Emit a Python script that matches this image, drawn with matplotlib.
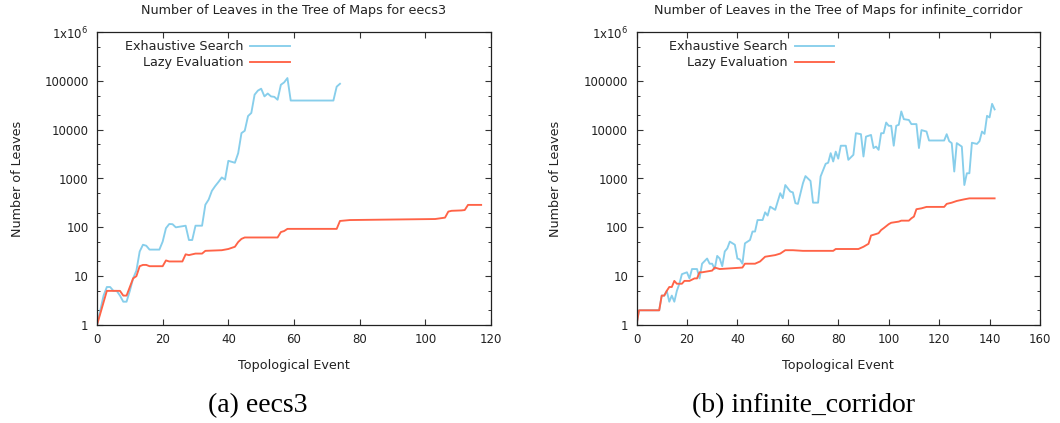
import matplotlib
matplotlib.use("Agg")
import matplotlib.pyplot as plt
from matplotlib.ticker import FixedLocator, LogLocator, NullFormatter

plt.rcParams['font.family'] = ['DejaVu Sans']

# ---- eecs3 ----
eecs3_exh_x = [0, 1, 2, 3, 4, 5, 6, 7, 8, 9, 10, 11, 12, 13, 14, 15, 16, 19, 20, 21,
               22, 23, 24, 27, 28, 29, 30, 32, 33, 34, 35, 36, 37, 38, 39, 40, 41, 42,
               43, 44, 45, 46, 47, 48, 49, 50, 51, 52, 53, 54, 55, 56, 57, 58, 59, 72,
               73, 74]
eecs3_exh_y = [1, 2, 4, 6, 6, 5, 5, 4, 3, 3, 5, 9, 13, 32, 44, 42, 35, 35, 51, 96,
               117, 116, 100, 108, 55, 55, 108, 108, 290, 370, 560, 700, 850, 1050, 950,
               2300, 2200, 2100, 3300, 8500, 9500, 19000, 22000, 52000, 63000, 69000,
               48000, 55000, 48000, 47000, 41000, 83000, 93000, 114000, 39500, 39500,
               76000, 87000]

eecs3_lazy_x = [0, 3, 7, 8, 9, 10, 11, 12, 13, 14, 15, 16, 20, 21, 22, 26, 27, 28, 29,
                30, 32, 33, 38, 40, 42, 43, 44, 45, 55, 56, 57, 58, 73, 74, 77, 103,
                106, 107, 108, 111, 112, 113, 117]
eecs3_lazy_y = [1, 5, 5, 4, 4, 6, 9, 10, 16, 17, 17, 16, 16, 21, 20, 20, 28, 27, 28,
                29, 29, 33, 34, 36, 40, 50, 58, 62, 62, 80, 84, 93, 93, 135, 141, 148,
                158, 210, 218, 222, 226, 288, 288]

# ---- infinite_corridor ----
corr_exh_x = [0, 1, 9, 10, 11, 12, 13, 14, 15, 16, 17, 18, 20, 21, 22, 24, 25, 26, 28,
              29, 30, 31, 32, 33, 34, 35, 36, 37, 39, 40, 41, 42, 43, 45, 46, 47, 48,
              50, 51, 52, 53, 55, 57, 58, 59, 61, 62, 63, 64, 66, 67, 69, 70, 72, 73,
              75, 76, 77, 78, 79, 80, 81, 83, 84, 86, 87, 89, 90, 91, 93, 94, 95, 96,
              97, 98, 99, 100, 101, 102, 103, 104, 105, 106, 108, 109, 111, 112, 113,
              115, 116, 122, 123, 124, 125, 126, 127, 129, 130, 131, 132, 133, 135,
              136, 137, 138, 139, 140, 141, 142]
corr_exh_y = [1, 2, 2, 4, 4, 5, 3, 4, 3, 5, 7, 11, 12, 9, 14, 14, 9, 18, 23, 18, 18,
              14, 26, 23, 16, 32, 37, 51, 44, 23, 22, 18, 47, 55, 82, 82, 141, 141, 203,
              174, 265, 228, 500, 395, 735, 540, 520, 313, 302, 800, 1120, 890, 320,
              320, 1100, 2000, 2100, 3300, 2230, 3550, 2550, 4690, 4690, 2410, 3050,
              8470, 8080, 2820, 7200, 7800, 4200, 4500, 3860, 8470, 8470, 14000, 12000,
              12000, 4690, 12000, 12600, 23600, 16400, 15800, 13000, 13000, 4200, 9800,
              9150, 6000, 6000, 8080, 5800, 5300, 1390, 5300, 4500, 735, 1280, 1280,
              5400, 5100, 5800, 9150, 8200, 19200, 17800, 33800, 26000]

corr_lazy_x = [0, 1, 9, 10, 11, 12, 13, 14, 15, 16, 18, 19, 21, 23, 24, 25, 26, 30, 31,
               33, 42, 43, 47, 49, 51, 55, 57, 59, 62, 66, 78, 79, 88, 90, 92, 93, 95,
               96, 97, 98, 100, 101, 104, 105, 108, 109, 110, 111, 113, 115, 122, 123,
               125, 127, 130, 132, 142]
corr_lazy_y = [1, 2, 2, 4, 4, 5, 6, 6, 8, 7, 7, 8, 8, 9, 9, 12, 12, 13, 15, 14, 15,
               18, 18, 20, 25, 27, 29, 34, 34, 33, 33, 36, 36, 40, 46, 68, 73, 76, 88,
               96, 116, 124, 131, 137, 137, 153, 166, 235, 245, 262, 262, 302, 320, 347,
               375, 392, 392]

y_ticks = [1, 10, 100, 1000, 10000, 100000, 1000000]
y_ticklabels = ['1', '10', '100', '1000', '10000', '100000', '1x10$^{6}$']

EXH_COLOR = '#87ceeb'
LAZY_COLOR = '#ff6347'
TEXT_COLOR = '#222222'
TICK_FS = 8.5
FS = 9.2

fig = plt.figure(figsize=(10.6, 4.23), dpi=100)

panels = [
    dict(rect=[97 / 1060, 1 - 325 / 423, 394 / 1060, 293 / 423],
         name='eecs3', xmax=120, xticks=range(0, 121, 20),
         exh=(eecs3_exh_x, eecs3_exh_y), lazy=(eecs3_lazy_x, eecs3_lazy_y),
         caption='(a) eecs3', cap_x=258 / 1060),
    dict(rect=[636.5 / 1060, 1 - 325 / 423, 403.5 / 1060, 293 / 423],
         name='infinite_corridor', xmax=160, xticks=range(0, 161, 20),
         exh=(corr_exh_x, corr_exh_y), lazy=(corr_lazy_x, corr_lazy_y),
         caption='(b) infinite_corridor', cap_x=804 / 1060),
]

for p in panels:
    ax = fig.add_axes(p['rect'])
    ax.plot(p['exh'][0], p['exh'][1], color=EXH_COLOR, lw=1.35,
            label='Exhaustive Search', solid_joinstyle='round')
    ax.plot(p['lazy'][0], p['lazy'][1], color=LAZY_COLOR, lw=1.35,
            label='Lazy Evaluation', solid_joinstyle='round')
    ax.set_yscale('log')
    ax.set_ylim(1, 1e6)
    ax.set_xlim(0, p['xmax'])
    ax.set_xticks(list(p['xticks']))
    ax.yaxis.set_major_locator(FixedLocator(y_ticks))
    ax.set_yticklabels(y_ticklabels)
    ax.yaxis.set_minor_locator(LogLocator(base=10, subs=(2.0, 5.0), numticks=20))
    ax.yaxis.set_minor_formatter(NullFormatter())
    ax.tick_params(which='major', direction='in', length=4.5, width=0.8,
                   top=True, right=True, labelsize=TICK_FS, colors='#333333',
                   labelcolor=TEXT_COLOR)
    ax.tick_params(axis='x', which='major', pad=6)
    ax.tick_params(axis='y', which='major', pad=6)
    ax.tick_params(which='minor', direction='in', length=2.5, width=0.7,
                   right=True, colors='#333333')
    for s in ax.spines.values():
        s.set_linewidth(0.9)
        s.set_color('#222222')
    ax.set_title('Number of Leaves in the Tree of Maps for ' + p['name'],
                 fontsize=FS, color=TEXT_COLOR, pad=13)
    ax.set_xlabel('Topological Event', fontsize=FS, color=TEXT_COLOR)
    ax.set_ylabel('Number of Leaves', fontsize=FS, color=TEXT_COLOR)
    ax.xaxis.set_label_coords(0.5, -0.117)
    ax.yaxis.set_label_coords(-0.185, 0.5)
    leg = ax.legend(loc='upper right', bbox_to_anchor=(0.49, 0.9716),
                    frameon=False, markerfirst=False, fontsize=FS,
                    handlelength=3.1, handletextpad=0.55, borderpad=0,
                    borderaxespad=0, labelspacing=0.24)
    for t in leg.get_texts():
        t.set_color(TEXT_COLOR)
    fig.text(p['cap_x'], 1 - 406 / 423, p['caption'], ha='center', va='center',
             fontsize=20, family='Liberation Serif', color='black')

fig.savefig('out.png', dpi=100)
